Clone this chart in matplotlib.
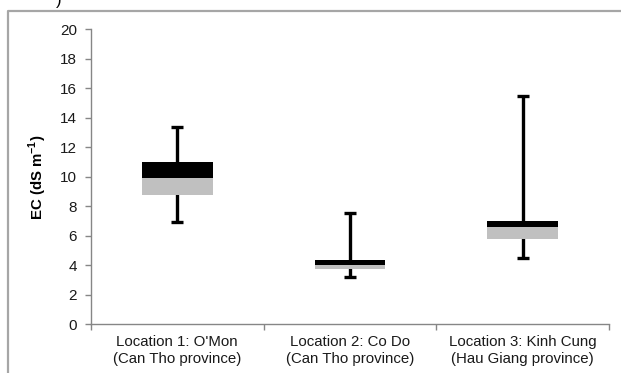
import matplotlib.pyplot as plt
import numpy as np
from matplotlib.lines import Line2D

plt.rcParams['font.family'] = ['Liberation Sans', 'DejaVu Sans']
plt.rcParams['mathtext.fontset'] = 'custom'
plt.rcParams['mathtext.rm'] = 'Liberation Sans'
plt.rcParams['mathtext.bf'] = 'Liberation Sans:bold'

# EC box summaries per sampling location
locations = ["Location 1: O'Mon\n(Can Tho province)",
             "Location 2: Co Do\n(Can Tho province)",
             "Location 3: Kinh Cung\n(Hau Giang province)"]
ec_min = [6.94, 3.19, 4.47]
ec_q1 = [8.77, 3.77, 5.80]
ec_median = [9.90, 4.04, 6.58]
ec_q3 = [11.00, 4.38, 6.98]
ec_max = [13.38, 7.52, 15.48]

fig = plt.figure(figsize=(6.21, 3.73), dpi=100)
ax = fig.add_axes([0.1465, 0.1306, 0.834, 0.7908])

x = np.arange(len(locations)) + 0.5
q1 = np.array(ec_q1)
med = np.array(ec_median)
q3 = np.array(ec_q3)

# whiskers behind the boxes
ax.vlines(x, ec_min, ec_max, color='black', lw=2.4, zorder=1)
ax.plot(x, ec_min, ls='none', marker='_', ms=8, mew=2.4, color='black', zorder=1)
ax.plot(x, ec_max, ls='none', marker='_', ms=8, mew=2.4, color='black', zorder=1)

# lower half grey, upper half black
ax.bar(x, med - q1, bottom=q1, width=0.41, color='#c0c0c0', zorder=2)
ax.bar(x, q3 - med, bottom=med, width=0.41, color='black', zorder=2)

ax.set_xlim(0, 3)
ax.set_ylim(0, 20)
ax.set_yticks(np.arange(0, 21, 2))

ax.set_xticks([0, 1, 2, 3])
ax.set_xticklabels([])
ax.set_xticks(x, minor=True)
ax.set_xticklabels(locations, minor=True, fontsize=10.8, color='#1a1a1a')
ax.tick_params(axis='x', which='minor', length=0, pad=8)
ax.tick_params(axis='x', which='major', length=4, width=1, color='#868686', direction='out')
ax.tick_params(axis='y', length=4, width=1, color='#868686', direction='out',
               labelsize=11, labelcolor='#1a1a1a', pad=6)

for side in ['top', 'right']:
    ax.spines[side].set_visible(False)
for side in ['left', 'bottom']:
    ax.spines[side].set_color('#868686')
    ax.spines[side].set_linewidth(1)

ax.set_ylabel(r'EC (dS m$^{\mathbf{-1}}$)', fontsize=10.8, fontweight='bold')
ax.yaxis.set_label_coords(-0.082, 0.5)

# outer chart frame
fig.add_artist(Line2D([8 / 621, 8 / 621, 1.0], [0.0, 1 - 10.5 / 373, 1 - 10.5 / 373],
                      transform=fig.transFigure, color='#a6a6a6', lw=1.6))
fig.text(0.095, 1.0, ')', fontsize=12, ha='center', va='center')

fig.savefig('out.png', dpi=100)
